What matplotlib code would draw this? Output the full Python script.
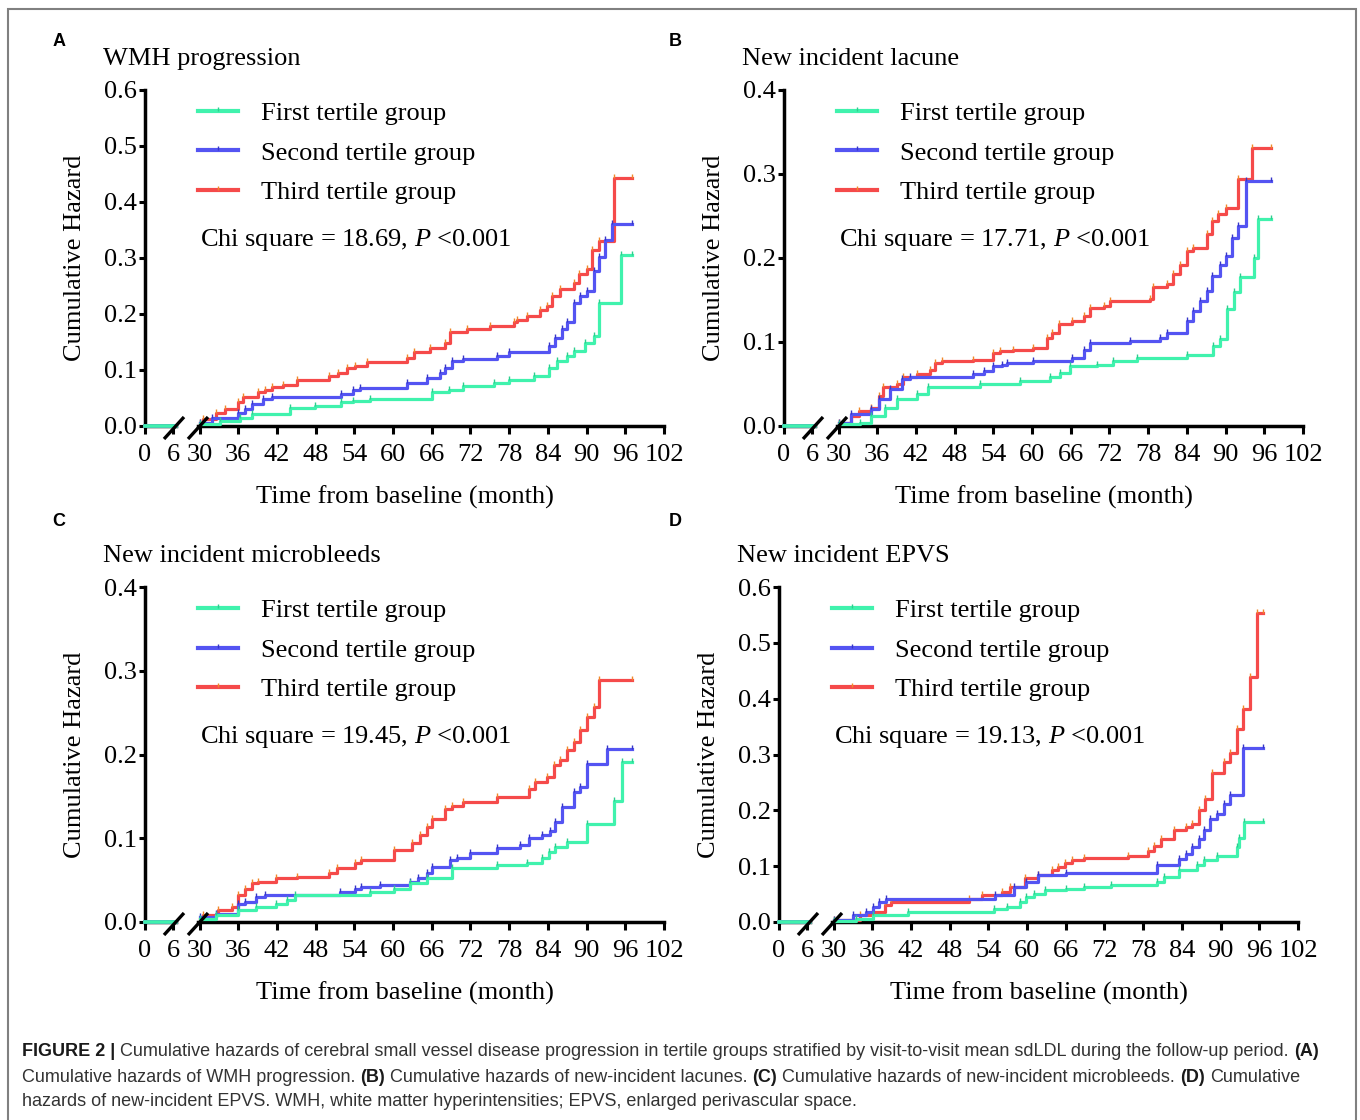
import matplotlib
matplotlib.use("Agg")
import matplotlib.pyplot as plt
from matplotlib.lines import Line2D
from matplotlib.patches import Rectangle
from matplotlib.ticker import FormatStrFormatter

plt.rcParams["font.family"] = ["Liberation Serif", "DejaVu Serif"]
plt.rcParams["mathtext.fontset"] = "custom"
plt.rcParams["mathtext.rm"] = "Liberation Serif"
plt.rcParams["mathtext.it"] = "Liberation Serif:italic"

W, H = 1360, 1120
SANS = ["Liberation Sans", "DejaVu Sans"]
FS = 19

GROUPS = ["First tertile group", "Second tertile group", "Third tertile group"]
COLORS = ["#40f2ad", "#5454f2", "#f54a4a"]
TICK_COLORS = ["#2ccf8e", "#3636c8", "#f0892a"]
ZORDERS = [5, 4, 3]

# months 0-6, before the break, nobody has an event yet
early_t = [0, 6.6]
early_h = [0, 0]

# A: WMH progression
wmh_first_t = [30, 33.2, 36.3, 38.1, 44.0, 47.9, 52.0, 53.8, 56.4, 66.0, 68.6, 70.9, 75.6, 77.9, 81.8,
               84.1, 85.4, 87.0, 88.0, 89.8, 91.1, 91.9, 95.3, 97.0]
wmh_first_h = [0.003, 0.009, 0.015, 0.021, 0.033, 0.036, 0.042, 0.045, 0.048, 0.060, 0.065, 0.071, 0.077,
               0.083, 0.089, 0.104, 0.116, 0.125, 0.134, 0.149, 0.161, 0.220, 0.305, 0.305]
wmh_second_t = [30, 31.9, 36.0, 37.0, 38.1, 39.9, 41.2, 52.0, 53.8, 54.9, 62.1, 65.2, 67.3, 68.1, 69.1,
                70.9, 76.1, 77.9, 84.1, 85.1, 86.2, 87.0, 88.0, 89.0, 90.1, 91.1, 91.9, 92.9, 93.9, 97.0]
wmh_second_h = [0.005, 0.015, 0.024, 0.030, 0.039, 0.048, 0.051, 0.057, 0.065, 0.068, 0.077, 0.086, 0.095,
                0.104, 0.116, 0.119, 0.125, 0.132, 0.143, 0.158, 0.173, 0.185, 0.220, 0.232, 0.241, 0.277,
                0.301, 0.333, 0.360, 0.360]
wmh_third_t = [30, 30.6, 32.6, 33.9, 36.0, 36.8, 39.1, 40.1, 41.2, 43.0, 45.1, 50.0, 51.5, 52.8, 54.1,
               55.9, 62.1, 63.2, 65.7, 68.1, 68.9, 71.4, 75.1, 78.7, 79.2, 80.7, 82.8, 83.9, 84.6, 85.9,
               88.0, 88.8, 90.1, 90.8, 91.9, 94.2, 97.0]
wmh_third_h = [0.006, 0.012, 0.024, 0.030, 0.042, 0.051, 0.060, 0.065, 0.070, 0.074, 0.083, 0.089, 0.095,
               0.104, 0.107, 0.114, 0.122, 0.132, 0.140, 0.149, 0.167, 0.173, 0.179, 0.185, 0.190, 0.196,
               0.208, 0.214, 0.232, 0.244, 0.256, 0.271, 0.280, 0.315, 0.330, 0.443, 0.443]

# B: new incident lacune
lac_first_t = [30, 33.3, 35.1, 37.2, 39.0, 42.1, 43.9, 51.9, 58.1, 62.8, 64.3, 65.9, 70.0, 72.6, 76.2,
               84.0, 88.1, 89.2, 90.2, 91.3, 92.3, 94.4, 95.1, 97.0]
lac_first_h = [0.002, 0.004, 0.012, 0.022, 0.032, 0.038, 0.046, 0.050, 0.054, 0.058, 0.063, 0.071, 0.073,
               0.077, 0.081, 0.085, 0.095, 0.103, 0.139, 0.159, 0.177, 0.200, 0.246, 0.246]
lac_second_t = [30, 32.0, 35.1, 36.2, 38.0, 39.8, 41.1, 50.9, 52.5, 54.0, 55.3, 56.1, 60.2, 66.2, 68.0,
                69.0, 75.2, 79.9, 80.9, 84.0, 85.0, 86.1, 87.1, 87.9, 89.2, 90.0, 91.0, 92.0, 93.1, 97.0]
lac_second_h = [0.004, 0.014, 0.020, 0.032, 0.044, 0.056, 0.058, 0.062, 0.065, 0.071, 0.073, 0.075, 0.077,
                0.081, 0.091, 0.099, 0.101, 0.105, 0.111, 0.125, 0.137, 0.149, 0.161, 0.179, 0.192, 0.202,
                0.224, 0.238, 0.292, 0.292]
lac_third_t = [30, 32.0, 33.1, 35.1, 36.2, 36.9, 39.0, 40.0, 42.1, 44.2, 45.0, 46.0, 50.9, 54.0, 55.0,
               57.1, 60.2, 62.3, 63.1, 64.1, 66.2, 68.0, 69.0, 71.1, 72.1, 78.3, 78.8, 80.9, 81.9, 83.0,
               84.0, 85.0, 87.1, 87.9, 88.9, 90.0, 92.0, 94.1, 97.0]
lac_third_h = [0.004, 0.012, 0.018, 0.022, 0.036, 0.046, 0.050, 0.058, 0.062, 0.067, 0.075, 0.077, 0.079,
               0.087, 0.089, 0.091, 0.093, 0.105, 0.111, 0.121, 0.125, 0.131, 0.141, 0.143, 0.149, 0.151,
               0.165, 0.169, 0.181, 0.192, 0.208, 0.212, 0.228, 0.244, 0.252, 0.260, 0.294, 0.331, 0.331]

# C: new incident microbleeds
mb_first_t = [30, 32.6, 36.0, 38.8, 41.9, 43.5, 44.8, 56.4, 60.1, 62.6, 65.2, 69.1, 76.1, 80.7, 83.1,
              84.1, 85.1, 87.0, 90.1, 94.2, 95.5, 97.0]
mb_first_h = [0.004, 0.008, 0.014, 0.018, 0.022, 0.026, 0.032, 0.036, 0.040, 0.046, 0.052, 0.064, 0.068,
              0.070, 0.076, 0.084, 0.090, 0.096, 0.117, 0.145, 0.191, 0.191]
mb_second_t = [30, 32.6, 36.0, 37.0, 38.8, 40.1, 51.8, 54.1, 55.1, 58.0, 62.6, 63.9, 65.2, 66.0, 68.9,
               69.9, 72.0, 76.1, 79.7, 81.0, 83.1, 84.4, 85.1, 86.2, 88.0, 89.0, 90.1, 93.2, 97.0]
mb_second_h = [0.006, 0.010, 0.022, 0.024, 0.030, 0.032, 0.036, 0.040, 0.042, 0.044, 0.048, 0.052, 0.058,
               0.066, 0.074, 0.076, 0.082, 0.088, 0.092, 0.100, 0.104, 0.109, 0.119, 0.137, 0.155, 0.161,
               0.189, 0.207, 0.207]
mb_third_t = [30, 30.6, 32.9, 35.0, 36.0, 37.0, 38.1, 39.1, 41.9, 45.1, 50.0, 51.3, 54.1, 55.1, 60.1,
              62.9, 64.2, 65.2, 66.0, 68.1, 69.1, 70.9, 76.1, 81.0, 82.0, 83.9, 84.9, 85.9, 87.0, 88.0,
              89.0, 90.1, 91.1, 91.9, 97.0]
mb_third_h = [0.004, 0.008, 0.014, 0.018, 0.032, 0.040, 0.046, 0.048, 0.052, 0.054, 0.058, 0.064, 0.070,
              0.074, 0.086, 0.094, 0.104, 0.113, 0.123, 0.135, 0.139, 0.143, 0.149, 0.159, 0.167, 0.173,
              0.187, 0.193, 0.205, 0.215, 0.229, 0.245, 0.257, 0.289, 0.289]

# D: new incident EPVS
epvs_first_t = [30, 33.5, 36.1, 41.5, 54.8, 56.9, 58.9, 59.9, 61.0, 62.8, 66.1, 68.9, 73.0, 80.2, 81.2,
                83.5, 86.4, 87.4, 89.4, 92.5, 92.8, 93.6, 96.6]
epvs_first_h = [0.001, 0.006, 0.012, 0.018, 0.024, 0.027, 0.036, 0.045, 0.051, 0.057, 0.060, 0.063, 0.066,
                0.072, 0.081, 0.093, 0.102, 0.111, 0.119, 0.134, 0.150, 0.179, 0.179]
epvs_second_t = [30, 33.0, 35.1, 36.1, 37.1, 38.2, 55.1, 57.9, 59.9, 61.7, 66.1, 80.2, 83.5, 84.6, 85.6,
                 86.6, 87.4, 88.4, 89.4, 90.5, 91.5, 93.5, 96.6]
epvs_second_h = [0.003, 0.012, 0.018, 0.027, 0.036, 0.042, 0.048, 0.063, 0.072, 0.084, 0.087, 0.102, 0.113,
                 0.122, 0.134, 0.149, 0.164, 0.185, 0.194, 0.212, 0.227, 0.311, 0.311]
epvs_third_t = [30, 34.1, 36.1, 37.9, 38.9, 51.0, 53.0, 56.1, 57.4, 59.7, 61.7, 63.8, 64.8, 65.8, 66.9,
                68.9, 75.6, 78.7, 79.7, 80.7, 82.8, 84.6, 85.6, 86.6, 87.6, 88.7, 90.5, 91.5, 92.5, 93.5,
                94.6, 95.6, 96.6]
epvs_third_h = [0.003, 0.012, 0.018, 0.030, 0.036, 0.042, 0.048, 0.054, 0.063, 0.078, 0.084, 0.093, 0.099,
                0.105, 0.111, 0.114, 0.119, 0.128, 0.137, 0.149, 0.164, 0.170, 0.176, 0.200, 0.221, 0.266,
                0.287, 0.302, 0.346, 0.382, 0.439, 0.553, 0.553]

right_ticks = list(range(30, 103, 6))

# censoring tick: short stroke pointing up from the curve
CENSOR = [(0, 0), (0, 1)]


def px_axes(fig, left, top, width, height):
    return fig.add_axes([left / W, 1 - (top + height) / H, width / W, height / H])


def slash(fig, cx, cy):
    fig.add_artist(Line2D([(cx - 10) / W, (cx + 10) / W], [1 - (cy + 11) / H, 1 - (cy - 11) / H],
                          transform=fig.transFigure, color="black", lw=2.4, solid_capstyle="butt"))


def style(ax, ymax):
    ax.set_ylim(0, ymax)
    ax.spines["top"].set_visible(False)
    ax.spines["right"].set_visible(False)
    for s in ("left", "bottom"):
        ax.spines[s].set_linewidth(2.5)
    ax.patch.set_alpha(0)
    ax.tick_params(axis="x", direction="out", length=6, width=2.2, labelsize=FS, pad=7)
    ax.tick_params(axis="y", direction="out", length=4.5, width=2.2, labelsize=FS, pad=1.5)


def draw_panel(fig, x0, y_base, y_top, ymax, title, letter, letter_xy, series, chi):
    height = y_base - y_top
    ax_l = px_axes(fig, x0, y_top, 6.6 * 4.67, height)
    ax_r = px_axes(fig, x0 + 53.3, y_top, 72.2 * 6.45, height)
    style(ax_l, ymax)
    style(ax_r, ymax)

    ax_l.set_xlim(0, 6.6)
    ax_l.set_xticks([0, 6])
    ax_l.set_yticks([round(v * 0.1, 1) for v in range(int(round(ymax * 10)) + 1)])
    ax_l.yaxis.set_major_formatter(FormatStrFormatter("%.1f"))

    ax_r.set_xlim(29.8, 102)
    ax_r.set_xticks(right_ticks)
    ax_r.spines["left"].set_visible(False)
    ax_r.tick_params(axis="y", left=False, labelleft=False)

    handles = []
    for i, (t, h) in enumerate(series):
        ax_l.plot(early_t, early_h, color=COLORS[i], lw=2.6, zorder=ZORDERS[i], clip_on=False)
        ln, = ax_r.plot(t, h, drawstyle="steps-post", color=COLORS[i], lw=2.3, zorder=ZORDERS[i],
                        marker=CENSOR, ms=6, mec=TICK_COLORS[i], mew=1.0, clip_on=False)
        handles.append(ln)

    leg = ax_r.legend(handles, GROUPS, loc="center left",
                      bbox_to_anchor=((x0 + 53) / W, 1 - (y_top + 63) / H), bbox_transform=fig.transFigure,
                      frameon=False, fontsize=FS, handlelength=1.5, handletextpad=0.87, labelspacing=0.61,
                      borderaxespad=0, borderpad=0, numpoints=1)
    for hl in leg.get_lines():
        hl.set_linewidth(3.0)

    fig.text((x0 + 55) / W, 1 - (y_top + 150) / H, chi, fontsize=FS, va="center", ha="left")
    fig.text((x0 - 42) / W, 1 - (y_top - 31) / H, title, fontsize=FS, va="center", ha="left")
    fig.text((x0 - 70) / W, 1 - (y_top + height / 2) / H, "Cumulative Hazard", fontsize=FS,
             rotation=90, va="center", ha="center")
    fig.text((x0 + 259.5) / W, 1 - (y_base + 71) / H, "Time from baseline (month)", fontsize=FS,
             va="center", ha="center")
    fig.text(letter_xy[0] / W, 1 - letter_xy[1] / H, letter, family=SANS, fontweight="bold",
             fontsize=13, va="center", ha="center")

    slash(fig, x0 + 29, y_base + 2)
    slash(fig, x0 + 53, y_base + 2)


fig = plt.figure(figsize=(W / 100, H / 100), dpi=100)

draw_panel(fig, 145, 426, 90, 0.6, "WMH progression", "A", (59, 42),
           [(wmh_first_t, wmh_first_h), (wmh_second_t, wmh_second_h), (wmh_third_t, wmh_third_h)],
           "Chi square = 18.69, $P$ <0.001")
draw_panel(fig, 784, 426, 90, 0.4, "New incident lacune", "B", (675, 42),
           [(lac_first_t, lac_first_h), (lac_second_t, lac_second_h), (lac_third_t, lac_third_h)],
           "Chi square = 17.71, $P$ <0.001")
draw_panel(fig, 145, 922, 587, 0.4, "New incident microbleeds", "C", (59, 522),
           [(mb_first_t, mb_first_h), (mb_second_t, mb_second_h), (mb_third_t, mb_third_h)],
           "Chi square = 19.45, $P$ <0.001")
draw_panel(fig, 779, 922, 587, 0.6, "New incident EPVS", "D", (675, 522),
           [(epvs_first_t, epvs_first_h), (epvs_second_t, epvs_second_h), (epvs_third_t, epvs_third_h)],
           "Chi square = 19.13, $P$ <0.001")

# frame around the figure (bottom edge runs off the page)
fig.patches.append(Rectangle((8 / W, -0.05), (1356 - 8) / W, 1.05 - 9 / H, transform=fig.transFigure,
                             fill=False, ec="#808080", lw=1.5))

# caption, mixing bold and regular runs
CAP_SIZE = 13
renderer = fig.canvas.get_renderer()
probe = fig.text(0, 0, "x x", fontsize=CAP_SIZE, family=SANS)
w2 = probe.get_window_extent(renderer).width
probe.set_text("xx")
space_w = w2 - probe.get_window_extent(renderer).width
probe.remove()

caption = [
    (1052, [("FIGURE 2 |", True),
            ("Cumulative hazards of cerebral small vessel disease progression in tertile groups stratified "
             "by visit-to-visit mean sdLDL during the follow-up period.", False),
            ("(A)", True)]),
    (1077, [("Cumulative hazards of WMH progression.", False), ("(B)", True),
            ("Cumulative hazards of new-incident lacunes.", False), ("(C)", True),
            ("Cumulative hazards of new-incident microbleeds.", False), ("(D)", True),
            ("Cumulative", False)]),
    (1102, [("hazards of new-incident EPVS. WMH, white matter hyperintensities; EPVS, enlarged "
             "perivascular space.", False)]),
]
for y, chunks in caption:
    x = 22
    for text, bold in chunks:
        t = fig.text(x / W, 1 - y / H, text, fontsize=CAP_SIZE, family=SANS,
                     fontweight="bold" if bold else "normal", color="#1a1a1a" if bold else "#333333",
                     va="center", ha="left")
        x += t.get_window_extent(renderer).width + space_w

fig.savefig("out.png", dpi=100)
